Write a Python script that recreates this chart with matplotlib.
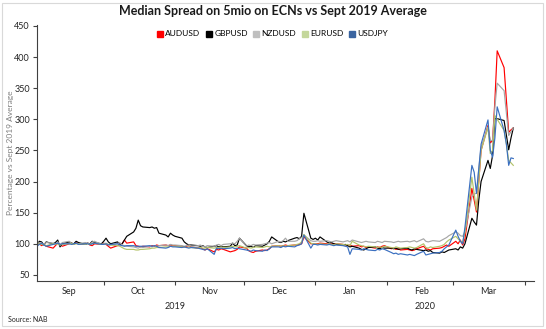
import pandas as pd
import matplotlib
matplotlib.use("Agg")
import matplotlib.pyplot as plt
import matplotlib.dates as mdates
from matplotlib.patches import Rectangle
from matplotlib.lines import Line2D

# business days covered by the chart
dates = pd.bdate_range("2019-09-02", "2020-03-27")

# spread vs Sept 2019 average (%), one row per month Sep..Mar
audusd = [98, 100, 97, 99, 96, 93, 97, 101, 99, 96, 100, 101, 99, 102, 100, 99, 101, 98, 97, 100, 99,
          101, 99, 96, 93, 97, 99, 100, 106, 101, 103, 97, 96, 95, 96, 95, 97, 96, 98, 97, 98, 97, 98, 97,
          97, 96, 95, 96, 97, 95, 93, 94, 92, 90, 92, 87, 91, 90, 92, 91, 87, 88, 89, 91, 95,
          93, 89, 87, 86, 88, 90, 89, 90, 92, 96, 97, 96, 97, 98, 97, 98, 98, 99, 100, 111, 100, 100,
          100, 100, 101, 100, 99, 100, 100, 100, 99, 98, 97, 98, 96, 97, 95, 96, 94, 95, 93, 95, 94, 96, 97,
          92, 93, 91, 92, 90, 91, 90, 89, 90, 92, 96, 92, 91, 90, 92, 93, 94, 96, 98, 96,
          104, 100, 106, 98, 108, 189, 170, 151, 200, 250, 290, 262, 266, 330, 410, 383, 330, 279, 283, 286]
gbpusd = [98, 104, 103, 98, 103, 100, 102, 106, 95, 100, 103, 101, 100, 104, 102, 99, 101, 100, 104, 102, 100,
          104, 109, 103, 100, 103, 99, 100, 106, 112, 119, 125, 138, 129, 127, 126, 127, 125, 126, 117, 114, 111, 117, 114,
          112, 109, 103, 100, 98, 98, 97, 96, 97, 95, 94, 96, 97, 95, 96, 95, 96, 101, 97, 98, 109,
          97, 95, 96, 94, 97, 96, 98, 100, 104, 111, 103, 102, 104, 103, 105, 109, 110, 108, 112, 149, 109, 107,
          109, 106, 111, 103, 101, 102, 100, 99, 98, 99, 97, 95, 96, 93, 91, 90, 92, 94, 95, 93, 92, 94, 93,
          93, 92, 93, 91, 92, 93, 91, 90, 92, 91, 89, 90, 88, 89, 86, 85, 87, 86, 88, 90,
          92, 90, 95, 93, 100, 141, 135, 130, 170, 200, 234, 221, 242, 301, 301, 298, 275, 251, 270, 286]
nzdusd = [100, 102, 101, 99, 102, 101, 100, 103, 98, 102, 104, 100, 99, 101, 100, 102, 101, 99, 103, 104, 99,
          100, 101, 99, 98, 100, 102, 98, 97, 96, 95, 94, 93, 95, 94, 96, 95, 97, 96, 97, 98, 97, 99, 98,
          98, 97, 96, 97, 98, 96, 97, 98, 96, 95, 97, 96, 98, 99, 97, 99, 100, 101, 100, 104, 109,
          96, 98, 97, 99, 98, 99, 100, 101, 102, 100, 104, 103, 105, 109, 104, 104, 105, 108, 110, 114, 105, 104,
          104, 105, 104, 105, 104, 103, 104, 105, 103, 104, 105, 103, 106, 103, 102, 103, 104, 103, 102, 104, 103, 102, 104,
          103, 102, 103, 104, 103, 104, 103, 104, 105, 103, 108, 104, 103, 104, 105, 104, 106, 108, 110, 113,
          119, 117, 113, 112, 120, 175, 180, 181, 220, 255, 287, 266, 266, 320, 358, 346, 310, 274, 280, 286]
eurusd = [99, 100, 99, 98, 97, 100, 99, 100, 98, 99, 100, 101, 99, 100, 100, 99, 100, 99, 100, 101, 99,
          99, 100, 99, 98, 97, 96, 94, 92, 91, 91, 90, 90, 91, 91, 92, 93, 93, 94, 94, 95, 95, 96, 96,
          96, 95, 95, 94, 95, 94, 93, 94, 93, 93, 94, 93, 94, 94, 95, 94, 95, 96, 95, 96, 97,
          93, 94, 93, 94, 95, 94, 95, 96, 95, 96, 97, 96, 97, 96, 97, 98, 99, 100, 103, 115, 101, 100,
          100, 99, 100, 99, 100, 99, 98, 100, 99, 98, 99, 97, 104, 98, 97, 96, 95, 96, 95, 94, 95, 94, 96,
          94, 93, 95, 94, 93, 94, 95, 94, 93, 94, 100, 94, 93, 95, 94, 96, 97, 99, 103, 106,
          112, 108, 104, 102, 118, 207, 180, 154, 200, 250, 287, 245, 250, 306, 300, 282, 260, 234, 230, 226]
usdjpy = [96, 99, 101, 98, 96, 99, 100, 101, 99, 100, 100, 99, 100, 101, 99, 100, 100, 99, 100, 101, 99,
          99, 100, 98, 99, 100, 98, 97, 96, 97, 97, 96, 96, 96, 96, 97, 96, 97, 96, 94, 93, 94, 96, 95,
          95, 94, 95, 94, 93, 94, 93, 92, 91, 90, 92, 83, 93, 92, 93, 92, 93, 94, 92, 93, 92,
          90, 89, 88, 90, 89, 88, 90, 89, 92, 95, 95, 94, 96, 95, 96, 95, 97, 98, 100, 114, 93, 99,
          99, 98, 99, 98, 99, 98, 97, 98, 97, 96, 95, 83, 92, 91, 90, 92, 91, 90, 89, 91, 90, 92, 91,
          86, 84, 85, 83, 84, 82, 83, 82, 81, 83, 88, 82, 83, 84, 85, 86, 88, 92, 95, 98,
          122, 112, 104, 100, 127, 226, 215, 181, 220, 260, 299, 250, 239, 270, 320, 282, 260, 226, 238, 237]

series = ["AUDUSD", "GBPUSD", "NZDUSD", "EURUSD", "USDJPY"]
values = [audusd, gbpusd, nzdusd, eurusd, usdjpy]
line_colors = ["#ff0000", "#000000", "#a6a6a6", "#b3c36a", "#3a6fc0"]
legend_colors = ["#ff0000", "#000000", "#bfbfbf", "#c4d79b", "#3a64a0"]

plt.rcParams["font.family"] = ["Lato", "DejaVu Sans"]

fig = plt.figure(figsize=(5.46, 3.29), dpi=100)
ax = fig.add_axes([37 / 546, 1 - 280.5 / 329, (534 - 37) / 546, (280.5 - 25.3) / 329])

for name, vals, c in zip(series, values, line_colors):
    ax.plot(dates, vals, color=c, linewidth=0.85, label=name)

ax.set_xlim(pd.Timestamp("2019-09-02"), pd.Timestamp("2020-04-05"))
ax.set_ylim(41, 451)
ax.set_yticks(range(50, 451, 50))

for s in ["top", "right"]:
    ax.spines[s].set_visible(False)
for s in ["left", "bottom"]:
    ax.spines[s].set_color("#404040")
    ax.spines[s].set_linewidth(0.8)

# month boundary ticks, labels centred in the month
ax.xaxis.set_major_locator(mdates.MonthLocator())
ax.xaxis.set_major_formatter(plt.NullFormatter())
ax.xaxis.set_minor_locator(mdates.MonthLocator(bymonthday=16))
ax.xaxis.set_minor_formatter(mdates.DateFormatter("%b"))
ax.tick_params(axis="x", which="major", length=3, width=0.8, color="#404040")
ax.tick_params(axis="x", which="minor", length=0, labelsize=6.5, pad=5, labelcolor="#262626")
ax.tick_params(axis="y", length=3, width=0.8, color="#404040", labelsize=6.5, pad=2, labelcolor="#262626")

# year row
tr = ax.get_xaxis_transform()
years = [("2019", "2019-09-01", "2020-01-01"), ("2020", "2020-01-01", "2020-04-05")]
for lab, a, b in years:
    mid = pd.Timestamp(a) + (pd.Timestamp(b) - pd.Timestamp(a)) / 2
    ax.text(mid, -0.083, lab, transform=tr, ha="center", va="top", fontsize=6.5, color="#262626")

ax.set_ylabel("Percentage vs Sept 2019 Average", fontsize=6, color="#7f7f7f")
ax.yaxis.set_label_coords(-0.046, 0.5)

fig.suptitle("Median Spread on 5mio on ECNs vs Sept 2019 Average", x=0.5, y=0.985,
             fontsize=9, fontweight="bold", color="#1a1a1a")

handles = [Line2D([], [], linestyle="none", marker="s", markersize=4.5, color=c) for c in legend_colors]
fig.legend(handles, series, loc="center", bbox_to_anchor=(0.498, 1 - 34 / 329), ncol=5, frameon=False,
           fontsize=6, handletextpad=0.1, columnspacing=0.55, handlelength=1.0)

fig.text(8 / 546, 1 - 319 / 329, "Source: NAB", fontsize=5, color="#262626", va="center")

fig.patches.append(Rectangle((2 / 546, 3 / 329), 541 / 546, 323 / 329, transform=fig.transFigure,
                             fill=False, edgecolor="#d9d9d9", linewidth=0.8))

fig.savefig("out.png", dpi=100)
